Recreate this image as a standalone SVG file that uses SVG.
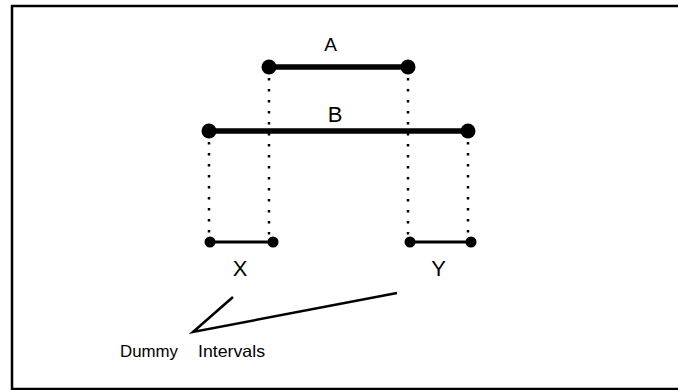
<svg xmlns="http://www.w3.org/2000/svg" width="678" height="390" viewBox="0 0 678 390">
<style>
.lbl{font-family:"Liberation Sans",Arial,sans-serif;fill:#000;text-anchor:middle}
.note{font-family:"Liberation Sans",Arial,sans-serif;font-size:16.5px;fill:#000}
.big{stroke:#000;stroke-width:5.5;fill:none}
.small{stroke:#000;stroke-width:3;fill:none}
.dot{stroke:#000;stroke-width:2.5;stroke-dasharray:2.5 8.5;fill:none}
</style>
<rect x="12" y="6" width="690" height="383" fill="#fff" stroke="#000" stroke-width="2.5"/>
<g id="connectors">
<line class="dot" x1="269" y1="78" x2="269" y2="240"/>
<line class="dot" x1="408" y1="78" x2="408" y2="240"/>
<line class="dot" x1="209" y1="142" x2="209" y2="240"/>
<line class="dot" x1="468" y1="142" x2="468" y2="240"/>
<polyline points="233,297 193,332 397,293" fill="none" stroke="#000" stroke-width="2.5"/>
</g>
<g id="A">
<line class="big" x1="269" y1="67" x2="408" y2="67"/>
<circle cx="269" cy="67" r="7.5"/><circle cx="408" cy="67" r="7.5"/>
<text class="lbl" x="330.5" y="51" font-size="19">A</text>
</g>
<g id="B">
<line class="big" x1="209" y1="131" x2="468" y2="131"/>
<circle cx="209" cy="131" r="7.5"/><circle cx="468" cy="131" r="7.5"/>
<text class="lbl" x="335" y="122" font-size="22">B</text>
</g>
<g id="X">
<line class="small" x1="210" y1="242" x2="273" y2="242"/>
<circle cx="210" cy="242" r="5.5"/><circle cx="273" cy="242" r="5.5"/>
<text class="lbl" x="240" y="276" font-size="22">X</text>
</g>
<g id="Y">
<line class="small" x1="410" y1="242" x2="471" y2="242"/>
<circle cx="410" cy="242" r="5.5"/><circle cx="471" cy="242" r="5.5"/>
<text class="lbl" x="438.5" y="276" font-size="22">Y</text>
</g>
<g id="label">
<text class="note" x="120" y="357" textLength="58" lengthAdjust="spacingAndGlyphs">Dummy</text>
<text class="note" x="198" y="357" textLength="67" lengthAdjust="spacingAndGlyphs">Intervals</text>
</g>
</svg>
